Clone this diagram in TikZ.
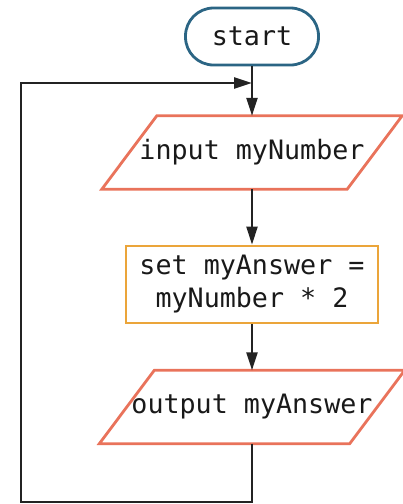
\documentclass[tikz,border=0pt]{standalone}
\usepackage{fontspec}
\setmonofont{DejaVu Sans Mono}
\usepackage{tikz}
\usetikzlibrary{arrows.meta}
\tikzstyle{chart} = [x = 1pt, y = -1pt]
\definecolor{terminalColor}{RGB}{43,101,132}
\definecolor{ioColor}{RGB}{233,115,91}
\definecolor{processColor}{RGB}{235,165,58}
\definecolor{lineColor}{RGB}{35,35,35}
\tikzstyle{chartText} = [font=\ttfamily\fontsize{26.7}{33}\selectfont, text=black!90]
\tikzstyle{terminalStyle} = [chartText, draw=terminalColor, line width=2.8pt, rounded corners=28pt, minimum width=133pt, minimum height=57pt]
\tikzstyle{processStyle} = [chartText, draw=processColor, line width=2.8pt, minimum width=252pt, minimum height=77pt, align=center]
\tikzstyle{ioText} = [chartText, inner xsep=0pt, minimum height=73pt]
\tikzstyle{ioLine} = [draw=ioColor, line width=2.8pt]
\tikzstyle{flowLine} = [draw=lineColor, line width=2.4pt, -{Triangle[length=18pt, width=11pt]}]
\newcommand{\slantOffset}{27.5pt}
\newcommand{\ioBox}[4]{\node [ioText, minimum width=#3] (#1) at (#2) {#4};
  \draw [ioLine] ([xshift=-\slantOffset]#1.south west) -- ([xshift=-\slantOffset]#1.south east) -- ([xshift=\slantOffset]#1.north east) -- ([xshift=\slantOffset]#1.north west) -- cycle;}
\begin{document}
\begin{tikzpicture}[chart]
\useasboundingbox (0,0) rectangle (403,504);
\node [terminalStyle] (start) at (252,36.5) {start};
\ioBox{input}{252,152.5}{245pt}{input myNumber}
\node [processStyle] (set) at (252,284.5) {set myAnswer =\\myNumber * 2};
\ioBox{output}{252,407}{250pt}{output myAnswer}
\coordinate (merge) at (252,83);
\coordinate (loopCorner) at (21,502);
\draw [flowLine] (start) -- (input);
\draw [flowLine] (input) -- (set);
\draw [flowLine] (set) -- (output);
\draw [flowLine] (output.south) |- (loopCorner) |- (merge);
\end{tikzpicture}
\end{document}
